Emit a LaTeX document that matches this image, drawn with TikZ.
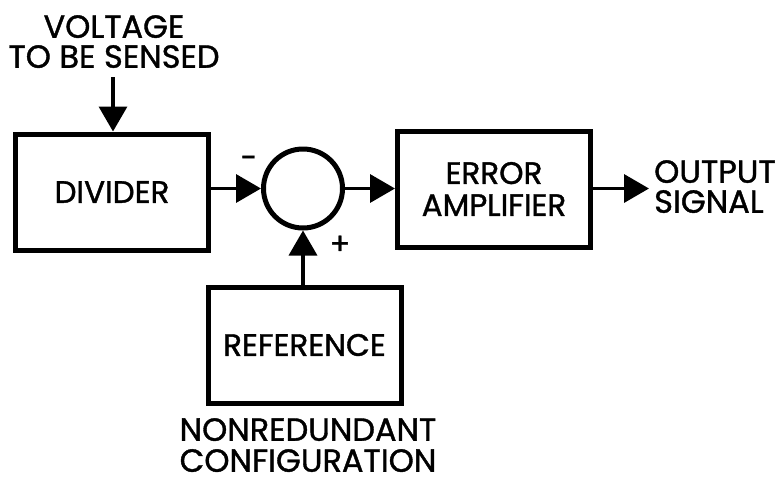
\documentclass[tikz,border=0pt]{standalone}
\usepackage{fontspec}
\setmainfont{Poppins}[FakeBold=1.2]
\usetikzlibrary{arrows.meta}
\begin{document}
\begin{tikzpicture}[x=1pt,y=-1pt,
  block/.style={draw,line width=5pt,rectangle,inner sep=0pt,minimum width=193pt,minimum height=116pt,
    align=center,font=\fontsize{31}{32}\selectfont},
  sumjunction/.style={draw,line width=5pt,circle,inner sep=0pt,minimum size=79pt},
  label/.style={align=center,inner sep=0pt,font=\fontsize{32}{30}\selectfont},
  sign/.style={inner sep=0pt,font=\fontsize{30}{30}\selectfont},
  flow/.style={line width=3.5pt,-{Triangle[length=25pt,width=28pt]}}]
  \useasboundingbox (0,0) rectangle (781,483);

  % blocks and summing junction
  \node[block] (divider) at (112,192) {DIVIDER};
  \node[sumjunction] (sum) at (303,188.5) {};
  \node[block] (amp) at (494,189) {ERROR\\AMPLIFIER};
  \node[block] (ref) at (304.5,345) {REFERENCE};

  % captions
  \node[label,anchor=north] (input) at (114,15) {VOLTAGE\\TO BE SENSED};
  \node[label,anchor=north west,align=left] (output) at (654,160) {OUTPUT\\SIGNAL};
  \node[label,anchor=north,font=\fontsize{32}{31}\selectfont] (config) at (308,418) {NONREDUNDANT\\CONFIGURATION};

  % polarity marks
  \node[sign] (minus) at (249,162) {-};
  \node[sign] (plus) at (340,245) {+};

  % signal flow
  \coordinate (in) at (113,77);
  \coordinate (out) at (649,188.5);
  \draw[flow] (in) -- (divider.north -| in);
  \draw[flow] (divider.east |- sum) -- (sum.west);
  \draw[flow] (sum.east) -- (amp.west |- sum);
  \draw[flow] (amp.east |- out) -- (out);
  \draw[flow] (ref.north -| sum) -- (sum.south);
\end{tikzpicture}
\end{document}
